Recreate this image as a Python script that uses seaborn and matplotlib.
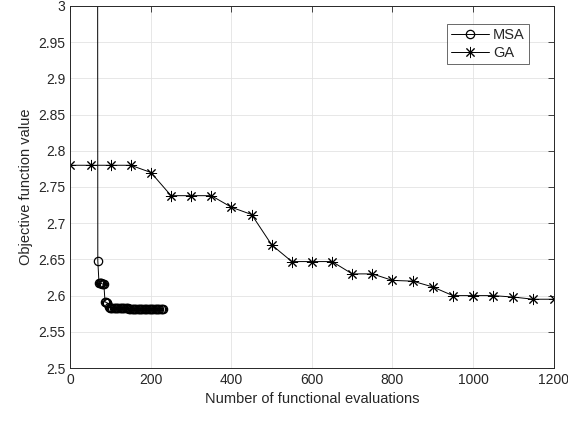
import numpy as np
import pandas as pd
import matplotlib
matplotlib.use("Agg")
import matplotlib.pyplot as plt
import seaborn as sns
from matplotlib.ticker import FormatStrFormatter

# MSA convergence (dense, starts above the plotted range)
msa_evals = [67, 68, 71, 73, 75, 77, 79, 81, 83, 86, 88, 90, 92, 95, 98,
             101, 104, 107, 110, 113, 116, 119, 122, 125, 128, 131, 134, 137,
             140, 143, 146, 149, 152, 155, 158, 161, 164, 167, 170, 173, 176,
             179, 182, 185, 188, 191, 194, 197, 200, 203, 206, 209, 212, 215,
             218, 221, 224, 227, 230]
msa_vals = [3.6, 2.648, 2.617, 2.617, 2.617, 2.617, 2.616, 2.616, 2.616,
            2.591, 2.591, 2.590, 2.590, 2.584, 2.583, 2.583, 2.583, 2.583,
            2.583, 2.583, 2.583, 2.583, 2.583, 2.583, 2.583, 2.583, 2.583,
            2.583, 2.583, 2.583, 2.582, 2.582, 2.582, 2.582, 2.582, 2.582,
            2.582, 2.582, 2.582, 2.582, 2.582, 2.582, 2.582, 2.582, 2.582,
            2.582, 2.582, 2.582, 2.582, 2.582, 2.582, 2.582, 2.582, 2.582,
            2.582, 2.582, 2.582, 2.582, 2.582]

# GA convergence
ga_evals = [0, 50, 100, 150, 200, 250, 300, 350, 400, 450, 500, 550, 600,
            650, 700, 750, 800, 850, 900, 950, 1000, 1050, 1100, 1150, 1200]
ga_vals = [2.780, 2.780, 2.780, 2.780, 2.770, 2.738, 2.738, 2.738, 2.722,
           2.712, 2.670, 2.647, 2.647, 2.647, 2.630, 2.630, 2.621, 2.620,
           2.612, 2.600, 2.600, 2.600, 2.598, 2.595, 2.595]

sns.set_style("white")
plt.rcParams['font.family'] = ['Liberation Sans', 'DejaVu Sans']

fig = plt.figure(figsize=(5.68, 4.24), dpi=100)
ax = fig.add_axes([0.124, 0.132, 0.8505, 0.854])

sns.lineplot(x=msa_evals, y=msa_vals, ax=ax, color='k', lw=0.7, sort=False,
             marker='o', markersize=6, markerfacecolor='none',
             markeredgecolor='k', markeredgewidth=0.9, label='MSA')
sns.lineplot(x=ga_evals, y=ga_vals, ax=ax, color='k', lw=0.7, sort=False,
             marker=(8, 2, 0), markersize=8, markeredgecolor='k',
             markeredgewidth=0.7, label='GA')

ax.set_xlim(0, 1200)
ax.set_ylim(2.5, 3.0)
ax.set_xticks(np.arange(0, 1201, 200))
ax.set_yticks(np.arange(2.5, 3.0001, 0.05))
ax.yaxis.set_major_formatter(FormatStrFormatter('%g'))
ax.grid(True, color='#e3e3e3', lw=0.6)
ax.tick_params(direction='in', length=4, width=0.6, colors='#262626',
               labelsize=10, top=True, right=True, labelcolor='#262626')
for s in ax.spines.values():
    s.set_color('#262626')
    s.set_linewidth(0.7)

ax.set_xlabel("Number of functional evaluations", fontsize=10.5, color='#262626')
ax.set_ylabel("Objective function value", fontsize=10.5, color='#262626')

leg = ax.legend(loc='upper right', bbox_to_anchor=(0.965, 0.97), fontsize=10.5,
                frameon=True, fancybox=False, edgecolor='#262626',
                handlelength=2.6, borderpad=0.3, labelspacing=0.25,
                handletextpad=0.3)
leg.get_frame().set_linewidth(0.6)

fig.savefig("out.png", dpi=100)
